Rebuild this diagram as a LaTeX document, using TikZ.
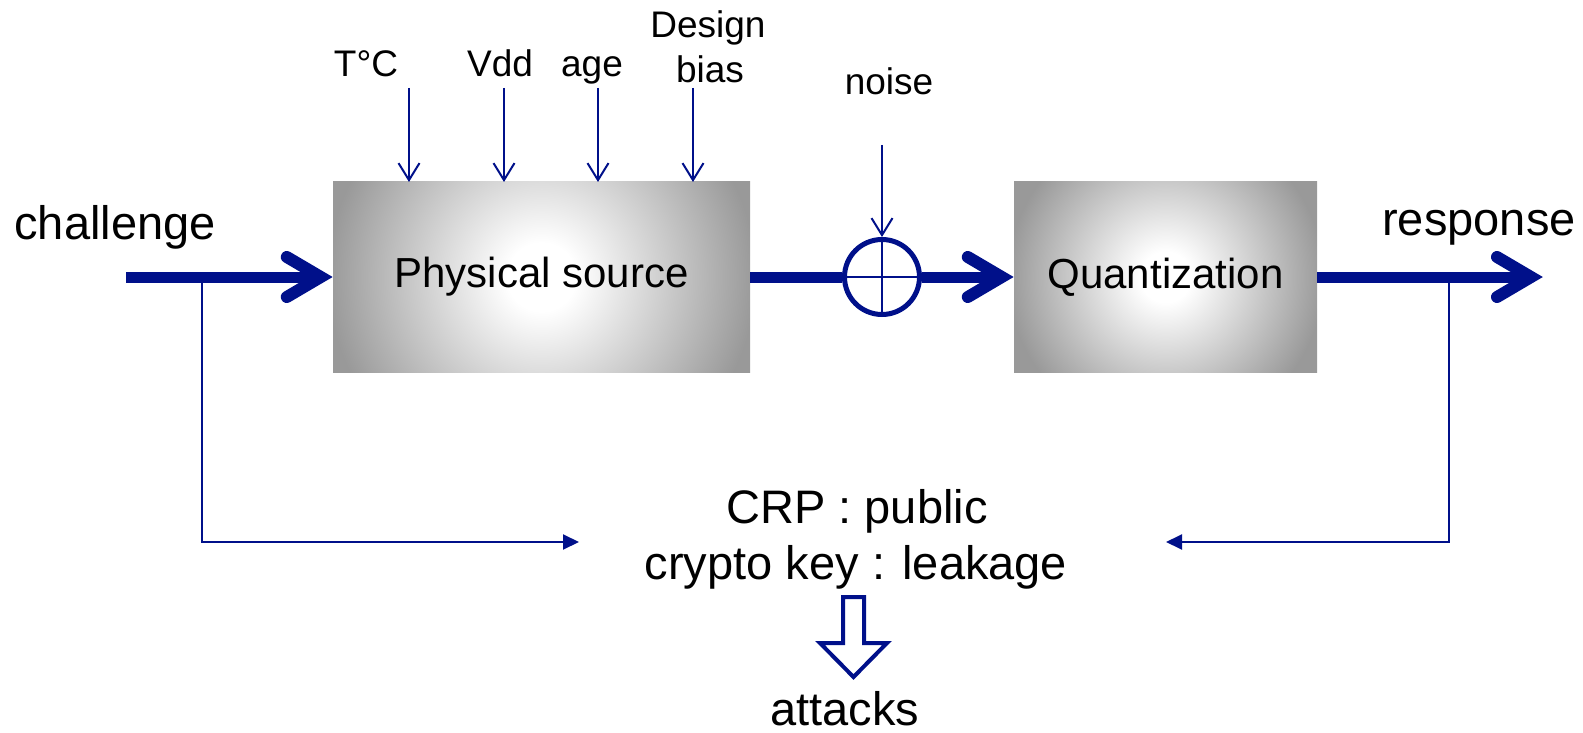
\documentclass[tikz,border=0pt]{standalone}
\usepackage{fontspec}
\setmainfont{Liberation Sans}
\usetikzlibrary{arrows.meta,calc}

\definecolor{navy}{RGB}{0,16,138}
\definecolor{boxgray}{RGB}{153,153,153}

% white centre that fades to grey towards the rim
\pgfdeclareradialshading{blockglow}{\pgfpoint{0bp}{0bp}}{%
  color(0bp)=(white); color(4bp)=(white); color(25bp)=(boxgray); color(50bp)=(boxgray)}

\tikzset{
  label/.style={inner sep=0pt, anchor=base, text=black},
  biglabel/.style={label, font=\fontsize{47}{55}\selectfont},
  smalllabel/.style={label, font=\fontsize{37}{44}\selectfont},
  block/.style={inner sep=0pt, minimum height=190pt,
    font=\fontsize{42}{50}\selectfont},
  % round glow spread over a square of half-size #1
  glow/.style={path picture={\shade[shading=blockglow]
    ($(path picture bounding box.center)+(-#1,-#1)$) rectangle
    ($(path picture bounding box.center)+(#1,#1)$);}},
  mainflow/.style={draw=navy, line width=11pt},
  chevron/.style={draw=navy, line width=12pt, line cap=round, line join=miter},
  thinline/.style={draw=navy, line width=2pt},
  influence/.style={thinline, -{Straight Barb[length=17pt,width=21pt,line width=2pt]}},
  feed/.style={thinline, -{Triangle[length=16pt,width=15pt]}},
  mixer/.style={circle, draw=navy, fill=white, line width=5pt,
    minimum size=75pt, inner sep=0pt}
}

\begin{document}
\begin{tikzpicture}[x=1pt,y=-1pt]
\useasboundingbox (0,0) rectangle (1583,733);

% shaded blocks
\node[block, minimum width=417pt, glow=214pt]
  (phys) at (541.5,277) {Physical source};
\node[block, minimum width=303pt, glow=158pt]
  (quant) at (1165.5,277) {Quantization};

% noise summing point
\node[mixer] (sum) at (882,277) {};
\draw[thinline] (sum.north) -- (sum.south);
\draw[thinline] (sum.west) -- (sum.east);

% labels
\node[biglabel] (chal) at (115,239) {challenge};
\node[biglabel] (resp) at (1479,235) {response};
\node[smalllabel] (temp) at (366,77) {T°C};
\node[smalllabel] (vdd) at (500,77) {Vdd};
\node[smalllabel] (age) at (592,77) {age};
\node[smalllabel] (design) at (708,38) {Design};
\node[smalllabel] (bias) at (710,83) {bias};
\node[smalllabel] (noise) at (889,95) {noise};
\node[biglabel] (crp) at (857,523) {CRP : public};
\node[biglabel] (key) at (856,579) {crypto key : leakage};
\node[biglabel] (att) at (845,725) {attacks};

% coordinates of the flow
\coordinate (cin) at (126,277);
\coordinate (cout) at (1543,277);
\coordinate (ctap) at (202,277);
\coordinate (rtap) at (1449,277);
\coordinate (cfeed) at (579,542);
\coordinate (rfeed) at (1166,542);

% main data path
\draw[mainflow] (cin) -- ($(phys.west)+(-14,0)$);
\draw[chevron] ($(phys.west)+(-46,-20)$) -- ($(phys.west)+(-12,0)$) -- ($(phys.west)+(-46,20)$);
\draw[mainflow] (phys.east) -- (sum.west);
\draw[mainflow] (sum.east) -- ($(quant.west)+(-14,0)$);
\draw[chevron] ($(quant.west)+(-46,-20)$) -- ($(quant.west)+(-12,0)$) -- ($(quant.west)+(-46,20)$);
\draw[mainflow] (quant.east) -- ($(cout)+(-14,0)$);
\draw[chevron] ($(cout)+(-46,-20)$) -- ($(cout)+(-12,0)$) -- ($(cout)+(-46,20)$);

% influences on the physical source
\foreach \px in {409, 504, 598, 693}
  \draw[influence] (\px,88) -- (\px,182);
\draw[influence] (882,145) -- (sum.north);

% challenge and response taps
\draw[feed] (ctap) |- (cfeed);
\draw[feed] (rtap) |- (rfeed);

% hollow arrow towards attacks
\draw[navy, line width=4pt, fill=white, line join=miter]
  (843,597) -- (864,597) -- (864,643) -- (887,643) -- (853.5,677)
  -- (820,643) -- (843,643) -- cycle;
\end{tikzpicture}
\end{document}
